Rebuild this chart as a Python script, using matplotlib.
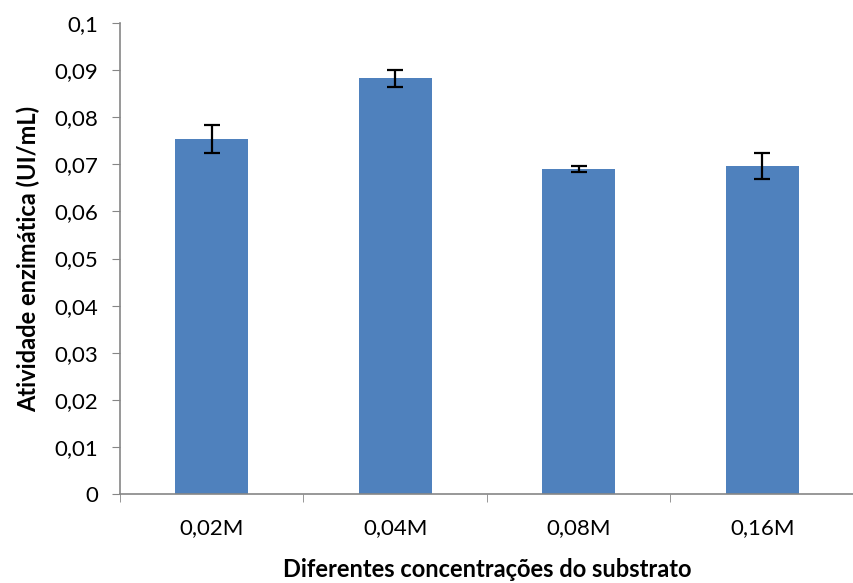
import matplotlib.pyplot as plt
import numpy as np

categories = ['0,02M', '0,04M', '0,08M', '0,16M']
atividade = [0.0754, 0.0883, 0.0690, 0.0696]
erro = [0.0029, 0.0018, 0.0006, 0.0028]
yticks = [0, 0.01, 0.02, 0.03, 0.04, 0.05, 0.06, 0.07, 0.08, 0.09, 0.1]
ytick_labels = ['0', '0,01', '0,02', '0,03', '0,04', '0,05', '0,06', '0,07', '0,08', '0,09', '0,1']

plt.rcParams['font.family'] = ['Lato', 'DejaVu Sans']

fig = plt.figure(figsize=(8.54, 5.83), dpi=100)
ax = fig.add_axes([120 / 854, 89 / 583, 734 / 854, 471 / 583])

x = np.arange(len(categories))
ax.bar(x, atividade, width=0.4, color='#4F81BD', zorder=2)
ax.errorbar(x, atividade, yerr=erro, fmt='none', ecolor='black',
            elinewidth=1.6, capsize=6, capthick=1.6, zorder=3)

ax.set_xlim(-0.5, -0.5 + 734 / 185)
ax.set_ylim(0, 0.1)
ax.set_yticks(yticks)
ax.set_yticklabels(ytick_labels)
ax.set_xticks(x)
ax.set_xticklabels(categories)
# ticks between categories like Excel
ax.set_xticks(np.arange(-0.5, 3.6, 1), minor=True)
ax.tick_params(axis='x', which='major', length=0, pad=17, labelsize=16)
ax.tick_params(axis='x', which='minor', length=6, color='#868686', direction='out')
ax.tick_params(axis='y', length=6, color='#868686', direction='out', labelsize=16, pad=10)

for s in ['top', 'right']:
    ax.spines[s].set_visible(False)
for s in ['left', 'bottom']:
    ax.spines[s].set_color('#868686')
    ax.spines[s].set_linewidth(1.2)

ax.set_ylabel('Atividade enzimática (UI/mL)', fontsize=17, fontweight='bold', labelpad=10)
ax.set_xlabel('Diferentes concentrações do substrato', fontsize=17, fontweight='bold', labelpad=15)

fig.savefig('out.png', dpi=100)
